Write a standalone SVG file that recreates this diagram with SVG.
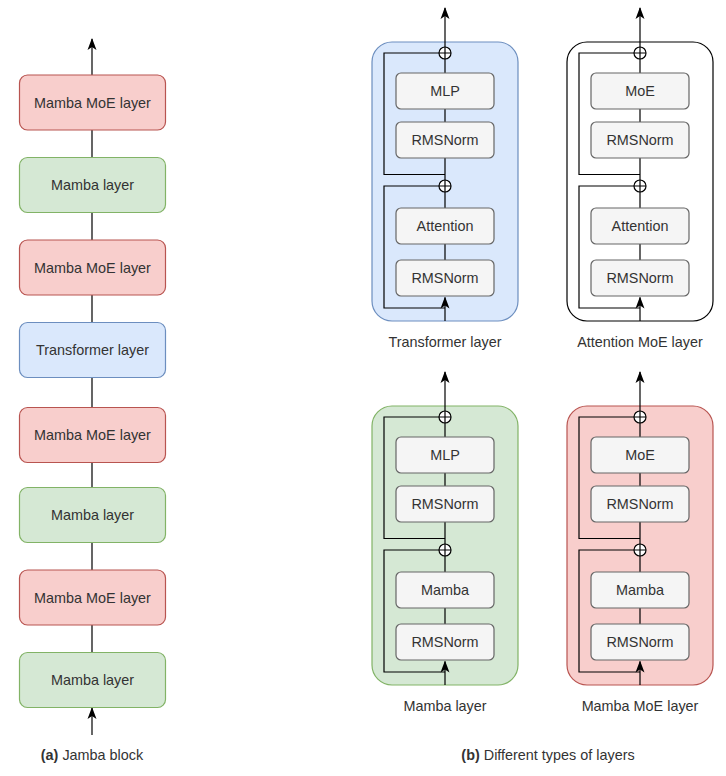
<svg xmlns="http://www.w3.org/2000/svg" width="726" height="776" viewBox="0 0 726 776">
<defs>
<style>
text{font-family:"Liberation Sans",Arial,sans-serif;font-size:14.4px;fill:#333333;text-anchor:middle}
.ln{fill:none;stroke:#000;stroke-width:1.2}
.red{fill:#f8cecc;stroke:#b85450;stroke-width:1.2}
.green{fill:#d5e8d4;stroke:#82b366;stroke-width:1.2}
.blue{fill:#dae8fc;stroke:#6c8ebf;stroke-width:1.2}
.white{fill:#ffffff;stroke:#000000;stroke-width:1.2}
.inner{fill:#f5f5f5;stroke:#666666;stroke-width:1.2}
.plus{fill:#ffffff;stroke:#000;stroke-width:1.2}
</style>
<marker id="arr" viewBox="0 0 12 10" refX="11" refY="5" markerWidth="12" markerHeight="10" markerUnits="userSpaceOnUse" orient="auto">
<path d="M0,0.5 L12,5 L0,9.5 L3,5 Z" fill="#000"/>
</marker>
</defs>

<g id="connectors">
<!-- left column -->
<path class="ln" d="M92,75 V39" marker-end="url(#arr)"/>
<path class="ln" d="M92,130 V157.5 M92,212.5 V240 M92,295 V322.5 M92,377.5 V407.5 M92,462.5 V487.5 M92,542.5 V570 M92,625 V652.5"/>
<path class="ln" d="M92,735 V708" marker-end="url(#arr)"/>
</g>

<g id="left-column">
<g id="L1"><rect class="red" x="19.5" y="75" width="146" height="55" rx="8"/><text x="92.5" y="107.5">Mamba MoE layer</text></g>
<g id="L2"><rect class="green" x="19.5" y="157.5" width="146" height="55" rx="8"/><text x="92.5" y="190">Mamba layer</text></g>
<g id="L3"><rect class="red" x="19.5" y="240" width="146" height="55" rx="8"/><text x="92.5" y="272.5">Mamba MoE layer</text></g>
<g id="L4"><rect class="blue" x="19.5" y="322.5" width="146" height="55" rx="8"/><text x="92.5" y="355">Transformer layer</text></g>
<g id="L5"><rect class="red" x="19.5" y="407.5" width="146" height="55" rx="8"/><text x="92.5" y="440">Mamba MoE layer</text></g>
<g id="L6"><rect class="green" x="19.5" y="487.5" width="146" height="55" rx="8"/><text x="92.5" y="520">Mamba layer</text></g>
<g id="L7"><rect class="red" x="19.5" y="570" width="146" height="55" rx="8"/><text x="92.5" y="602.5">Mamba MoE layer</text></g>
<g id="L8"><rect class="green" x="19.5" y="652.5" width="146" height="55" rx="8"/><text x="92.5" y="685">Mamba layer</text></g>
<text id="caption-a" x="92" y="760"><tspan font-weight="bold">(a)</tspan> Jamba block</text>
</g>

<!-- Transformer panel -->
<g id="transformer-panel" transform="translate(445,0)">
<rect class="blue" x="-73" y="42" width="146" height="279" rx="20"/>
<g class="conn">
<path class="ln" d="M0,47 V8" marker-end="url(#arr)"/>
<path class="ln" d="M0,59 V73 M0,109 V122 M0,158 V180 M0,192 V208 M0,244 V260"/>
<path class="ln" d="M-6,53 H-61 V174.5 H0"/>
<path class="ln" d="M-6,186 H-61 V308 H0"/>
<path class="ln" d="M0,321 V297.5" marker-end="url(#arr)"/>
</g>
<g id="t-mlp"><rect class="inner" x="-49" y="73" width="98" height="36" rx="5"/><text x="0" y="96">MLP</text></g>
<g id="t-norm1"><rect class="inner" x="-49" y="122" width="98" height="36" rx="5"/><text x="0" y="145">RMSNorm</text></g>
<g id="t-attn"><rect class="inner" x="-49" y="208" width="98" height="36" rx="5"/><text x="0" y="231">Attention</text></g>
<g id="t-norm2"><rect class="inner" x="-49" y="260" width="98" height="36" rx="5"/><text x="0" y="283">RMSNorm</text></g>
<g id="t-add1"><circle class="plus" cx="0" cy="53" r="6"/><path class="ln" d="M-6,53 H6 M0,47 V59"/></g>
<g id="t-add2"><circle class="plus" cx="0" cy="186" r="6"/><path class="ln" d="M-6,186 H6 M0,180 V192"/></g>
<text x="0" y="347">Transformer layer</text>
</g>

<!-- Attention MoE panel -->
<g id="attention-moe-panel" transform="translate(640,0)">
<rect class="white" x="-73" y="42" width="146" height="279" rx="20"/>
<g class="conn">
<path class="ln" d="M0,47 V8" marker-end="url(#arr)"/>
<path class="ln" d="M0,59 V73 M0,109 V122 M0,158 V180 M0,192 V208 M0,244 V260"/>
<path class="ln" d="M-6,53 H-61 V174.5 H0"/>
<path class="ln" d="M-6,186 H-61 V308 H0"/>
<path class="ln" d="M0,321 V297.5" marker-end="url(#arr)"/>
</g>
<g id="a-moe"><rect class="inner" x="-49" y="73" width="98" height="36" rx="5"/><text x="0" y="96">MoE</text></g>
<g id="a-norm1"><rect class="inner" x="-49" y="122" width="98" height="36" rx="5"/><text x="0" y="145">RMSNorm</text></g>
<g id="a-attn"><rect class="inner" x="-49" y="208" width="98" height="36" rx="5"/><text x="0" y="231">Attention</text></g>
<g id="a-norm2"><rect class="inner" x="-49" y="260" width="98" height="36" rx="5"/><text x="0" y="283">RMSNorm</text></g>
<g id="a-add1"><circle class="plus" cx="0" cy="53" r="6"/><path class="ln" d="M-6,53 H6 M0,47 V59"/></g>
<g id="a-add2"><circle class="plus" cx="0" cy="186" r="6"/><path class="ln" d="M-6,186 H6 M0,180 V192"/></g>
<text x="0" y="347">Attention MoE layer</text>
</g>

<!-- Mamba panel -->
<g id="mamba-panel" transform="translate(445,364)">
<rect class="green" x="-73" y="42" width="146" height="279" rx="20"/>
<g class="conn">
<path class="ln" d="M0,47 V8" marker-end="url(#arr)"/>
<path class="ln" d="M0,59 V73 M0,109 V122 M0,158 V180 M0,192 V208 M0,244 V260"/>
<path class="ln" d="M-6,53 H-61 V174.5 H0"/>
<path class="ln" d="M-6,186 H-61 V308 H0"/>
<path class="ln" d="M0,321 V297.5" marker-end="url(#arr)"/>
</g>
<g id="m-mlp"><rect class="inner" x="-49" y="73" width="98" height="36" rx="5"/><text x="0" y="96">MLP</text></g>
<g id="m-norm1"><rect class="inner" x="-49" y="122" width="98" height="36" rx="5"/><text x="0" y="145">RMSNorm</text></g>
<g id="m-mamba"><rect class="inner" x="-49" y="208" width="98" height="36" rx="5"/><text x="0" y="231">Mamba</text></g>
<g id="m-norm2"><rect class="inner" x="-49" y="260" width="98" height="36" rx="5"/><text x="0" y="283">RMSNorm</text></g>
<g id="m-add1"><circle class="plus" cx="0" cy="53" r="6"/><path class="ln" d="M-6,53 H6 M0,47 V59"/></g>
<g id="m-add2"><circle class="plus" cx="0" cy="186" r="6"/><path class="ln" d="M-6,186 H6 M0,180 V192"/></g>
<text x="0" y="347">Mamba layer</text>
</g>

<!-- Mamba MoE panel -->
<g id="mamba-moe-panel" transform="translate(640,364)">
<rect class="red" x="-73" y="42" width="146" height="279" rx="20"/>
<g class="conn">
<path class="ln" d="M0,47 V8" marker-end="url(#arr)"/>
<path class="ln" d="M0,59 V73 M0,109 V122 M0,158 V180 M0,192 V208 M0,244 V260"/>
<path class="ln" d="M-6,53 H-61 V174.5 H0"/>
<path class="ln" d="M-6,186 H-61 V308 H0"/>
<path class="ln" d="M0,321 V297.5" marker-end="url(#arr)"/>
</g>
<g id="mm-moe"><rect class="inner" x="-49" y="73" width="98" height="36" rx="5"/><text x="0" y="96">MoE</text></g>
<g id="mm-norm1"><rect class="inner" x="-49" y="122" width="98" height="36" rx="5"/><text x="0" y="145">RMSNorm</text></g>
<g id="mm-mamba"><rect class="inner" x="-49" y="208" width="98" height="36" rx="5"/><text x="0" y="231">Mamba</text></g>
<g id="mm-norm2"><rect class="inner" x="-49" y="260" width="98" height="36" rx="5"/><text x="0" y="283">RMSNorm</text></g>
<g id="mm-add1"><circle class="plus" cx="0" cy="53" r="6"/><path class="ln" d="M-6,53 H6 M0,47 V59"/></g>
<g id="mm-add2"><circle class="plus" cx="0" cy="186" r="6"/><path class="ln" d="M-6,186 H6 M0,180 V192"/></g>
<text x="0" y="347">Mamba MoE layer</text>
</g>

<text id="caption-b" x="548" y="760"><tspan font-weight="bold">(b)</tspan> Different types of layers</text>
</svg>
